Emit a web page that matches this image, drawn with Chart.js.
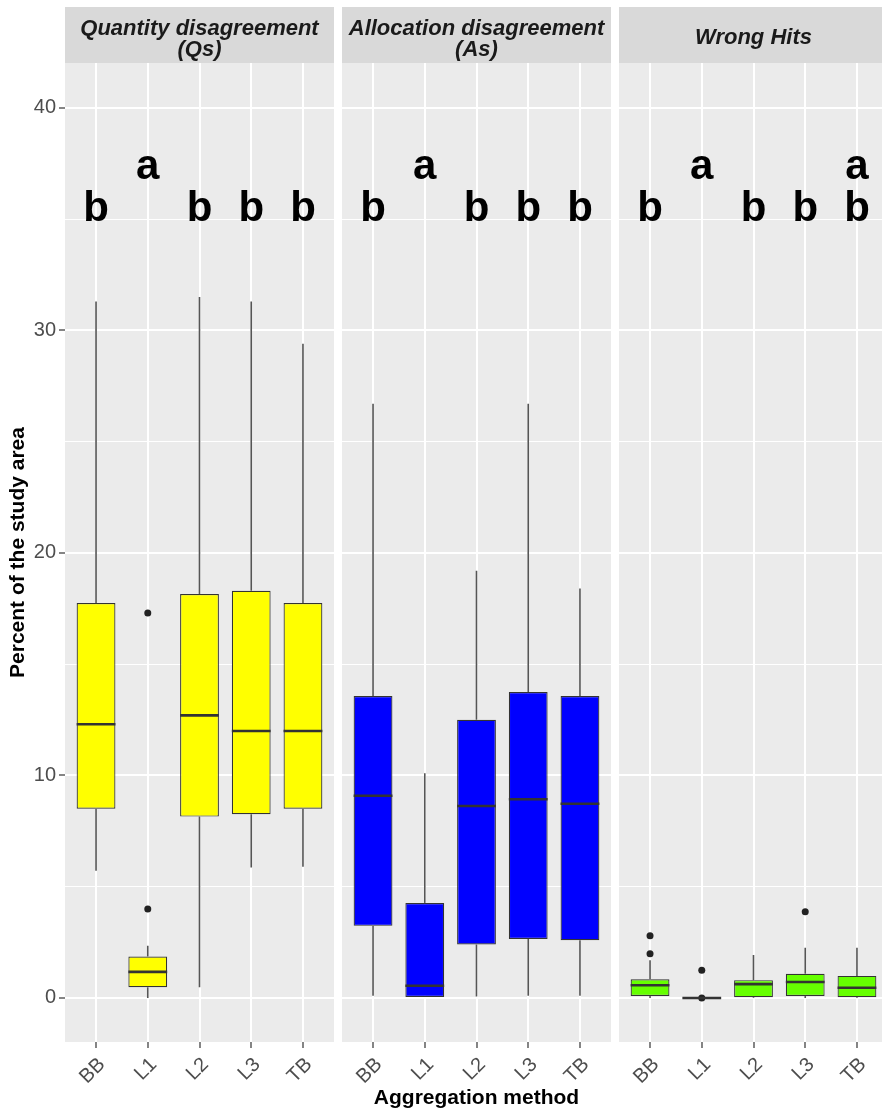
<!DOCTYPE html>
<html>
<head>
<meta charset="utf-8">
<script src="https://cdn.jsdelivr.net/npm/chart.js@4.4.1/dist/chart.umd.min.js"></script>
<style>
  html, body { margin: 0; padding: 0; background: #ffffff; width: 882px; height: 1114px; overflow: hidden; position: relative; }
  canvas { position: absolute; top: 0; }
</style>
</head>
<body>
<canvas id="qs" width="334" height="1114" style="left:0px"></canvas>
<canvas id="as" width="269" height="1114" style="left:342px"></canvas>
<canvas id="wh" width="269" height="1114" style="left:619px"></canvas>
<script>
// Aggregation methods on the x axis
const categories = ['BB', 'L1', 'L2', 'L3', 'TB'];
const yMajorTicks = [0, 10, 20, 30, 40];
const yMinorTicks = [5, 15, 25, 35];

// Quantity disagreement (Qs)
const qsWhiskerLow  = [5.72, 0.0, 0.48, 5.86, 5.9];
const qsQ1          = [8.5, 0.48, 8.15, 8.26, 8.5];
const qsMedian      = [12.3, 1.17, 12.7, 12.0, 12.0];
const qsQ3          = [17.75, 1.86, 18.15, 18.3, 17.75];
const qsWhiskerHigh = [31.3, 2.35, 31.5, 31.3, 29.4];
const qsOutliers    = [[], [4.0, 17.3], [], [], []];
const qsLetters     = ['b', 'a', 'b', 'b', 'b'];

// Allocation disagreement (As)
const asWhiskerLow  = [0.1, 0.0, 0.06, 0.1, 0.1];
const asQ1          = [3.24, 0.0, 2.4, 2.65, 2.59];
const asMedian      = [9.09, 0.55, 8.63, 8.93, 8.73];
const asQ3          = [13.57, 4.27, 12.5, 13.75, 13.57];
const asWhiskerHigh = [26.7, 10.1, 19.2, 26.7, 18.4];
const asOutliers    = [[], [], [], [], []];
const asLetters     = ['b', 'a', 'b', 'b', 'b'];

// Wrong Hits
const whWhiskerLow  = [0.0, 0.0, 0.0, 0.0, 0.0];
const whQ1          = [0.09, 0.0, 0.03, 0.09, 0.03];
const whMedian      = [0.57, 0.0, 0.62, 0.72, 0.46];
const whQ3          = [0.84, 0.0, 0.8, 1.09, 0.99];
const whWhiskerHigh = [1.69, 0.0, 1.93, 2.26, 2.26];
const whOutliers    = [[2.8, 1.99], [1.24, 0.0], [], [3.87], []];
const whLetters     = ['b', 'a', 'b', 'b', 'ab'];

// Rows of the significance letters (in data units)
const LETTER_ROW = { a: 36.8, b: 34.9 };

const FONT = '"Liberation Sans", Arial, Helvetica, sans-serif';
Chart.defaults.font.family = FONT;

const boxDetails = {
  id: 'boxDetails',
  beforeDraw(chart, args, o) {
    const { ctx, chartArea: a } = chart;
    ctx.save();
    ctx.fillStyle = '#EBEBEB';
    ctx.fillRect(a.left, a.top, a.right - a.left, a.bottom - a.top);
    // facet strip
    ctx.fillStyle = '#D9D9D9';
    ctx.fillRect(a.left, 7, a.right - a.left, a.top - 7);
    ctx.fillStyle = '#1A1A1A';
    ctx.font = 'italic bold 22px ' + FONT;
    ctx.textAlign = 'center';
    ctx.textBaseline = 'alphabetic';
    const lines = o.title.split('\n');
    const lh = 21;
    const base = lines.length > 1 ? 35 : 44;
    lines.forEach((t, i) => {
      ctx.fillText(t, (a.left + a.right) / 2, base + i * lh);
    });
    ctx.restore();
  },
  beforeDatasetsDraw(chart, args, o) {
    const { ctx } = chart;
    const xs = chart.scales.x, ys = chart.scales.y;
    ctx.save();
    ctx.strokeStyle = '#555555';
    ctx.lineWidth = 1.6;
    categories.forEach((c, i) => {
      const x = xs.getPixelForValue(i);
      ctx.beginPath();
      ctx.moveTo(x, ys.getPixelForValue(o.q3[i]));
      ctx.lineTo(x, ys.getPixelForValue(o.high[i]));
      ctx.moveTo(x, ys.getPixelForValue(o.q1[i]));
      ctx.lineTo(x, ys.getPixelForValue(o.low[i]));
      ctx.stroke();
    });
    ctx.restore();
  },
  afterDatasetDraw(chart, args, o) {
    if (args.index !== 0) return;
    const { ctx } = chart;
    const ys = chart.scales.y;
    const meta = chart.getDatasetMeta(0);
    ctx.save();
    ctx.strokeStyle = '#333333';
    ctx.lineWidth = 2.6;
    meta.data.forEach((bar, i) => {
      const y = ys.getPixelForValue(o.median[i]);
      ctx.beginPath();
      ctx.moveTo(bar.x - bar.width / 2, y);
      ctx.lineTo(bar.x + bar.width / 2, y);
      ctx.stroke();
    });
    ctx.restore();
  },
  afterDatasetsDraw(chart, args, o) {
    const { ctx } = chart;
    const xs = chart.scales.x, ys = chart.scales.y;
    ctx.save();
    ctx.fillStyle = '#000000';
    ctx.font = 'bold 42px ' + FONT;
    ctx.textAlign = 'center';
    ctx.textBaseline = 'alphabetic';
    o.letters.forEach((s, i) => {
      for (const ch of s) {
        ctx.fillText(ch, xs.getPixelForValue(i), ys.getPixelForValue(LETTER_ROW[ch]));
      }
    });
    ctx.restore();
  }
};

function makePanel(id, cfg) {
  const boxes = categories.map((c, i) => ({ x: i, y: [cfg.q1[i], cfg.q3[i]] }));
  const points = [];
  cfg.outliers.forEach((list, i) => list.forEach(v => points.push({ x: i, y: v })));
  const first = id === 'qs';
  const middle = id === 'as';
  return new Chart(document.getElementById(id), {
    type: 'bar',
    data: {
      datasets: [
        {
          data: boxes,
          backgroundColor: cfg.fill,
          borderColor: '#333333',
          borderWidth: 1.2,
          borderSkipped: false,
          barPercentage: 0.75,
          categoryPercentage: 1.0,
          grouped: false
        },
        {
          type: 'scatter',
          data: points,
          pointRadius: 3.5,
          pointBackgroundColor: '#222222',
          pointBorderWidth: 0
        }
      ]
    },
    options: {
      responsive: false,
      animation: false,
      devicePixelRatio: 1,
      layout: { autoPadding: false, padding: { top: 63, right: 0, bottom: 0, left: 0 } },
      plugins: {
        legend: { display: false },
        tooltip: { enabled: false },
        boxDetails: {
          title: cfg.title, low: cfg.low, q1: cfg.q1, median: cfg.median,
          q3: cfg.q3, high: cfg.high, letters: cfg.letters
        }
      },
      scales: {
        x: {
          type: 'linear',
          min: -0.6,
          max: 4.6,
          offset: false,
          afterBuildTicks: s => { s.ticks = categories.map((c, i) => ({ value: i })); },
          afterFit: s => { s.height = 72; s.paddingLeft = 0; s.paddingRight = 0; },
          border: { display: false },
          grid: { offset: false, color: '#FFFFFF', lineWidth: 2, tickColor: '#333333', tickLength: 6, tickWidth: 1.2 },
          ticks: {
            autoSkip: false,
            minRotation: 45,
            maxRotation: 45,
            padding: 5,
            labelOffset: 6,
            color: '#4D4D4D',
            font: { size: 20 },
            callback: v => categories[v]
          },
          title: {
            display: middle,
            text: 'Aggregation method',
            color: '#000000',
            font: { size: 21, weight: 'bold' },
            padding: { top: 0, bottom: 3 }
          }
        },
        y: {
          min: -1.98,
          max: 42.02,
          afterBuildTicks: s => {
            s.ticks = yMajorTicks.concat(yMinorTicks).sort((p, q) => p - q).map(v => ({ value: v }));
          },
          afterFit: s => { s.width = first ? 65 : 0; s.paddingTop = 0; s.paddingBottom = 0; },
          border: { display: false },
          grid: {
            color: '#FFFFFF',
            lineWidth: c => (yMajorTicks.includes(c.tick.value) ? 2 : 1),
            drawTicks: first,
            tickLength: 6,
            tickWidth: 1.2,
            tickColor: c => (yMajorTicks.includes(c.tick.value) ? '#333333' : 'rgba(0,0,0,0)')
          },
          ticks: {
            display: first,
            padding: 3,
            color: '#4D4D4D',
            font: { size: 20 },
            callback: v => (yMajorTicks.includes(v) ? String(v) : '')
          },
          title: {
            display: first,
            text: 'Percent of the study area',
            color: '#000000',
            font: { size: 21, weight: 'bold' },
            padding: { top: 6, bottom: 0 }
          }
        }
      }
    },
    plugins: [boxDetails]
  });
}

makePanel('qs', {
  title: 'Quantity disagreement\n(Qs)', fill: '#FFFF00',
  low: qsWhiskerLow, q1: qsQ1, median: qsMedian, q3: qsQ3, high: qsWhiskerHigh,
  outliers: qsOutliers, letters: qsLetters
});
makePanel('as', {
  title: 'Allocation disagreement\n(As)', fill: '#0000FF',
  low: asWhiskerLow, q1: asQ1, median: asMedian, q3: asQ3, high: asWhiskerHigh,
  outliers: asOutliers, letters: asLetters
});
makePanel('wh', {
  title: 'Wrong Hits', fill: '#66FF00',
  low: whWhiskerLow, q1: whQ1, median: whMedian, q3: whQ3, high: whWhiskerHigh,
  outliers: whOutliers, letters: whLetters
});
</script>
</body>
</html>
